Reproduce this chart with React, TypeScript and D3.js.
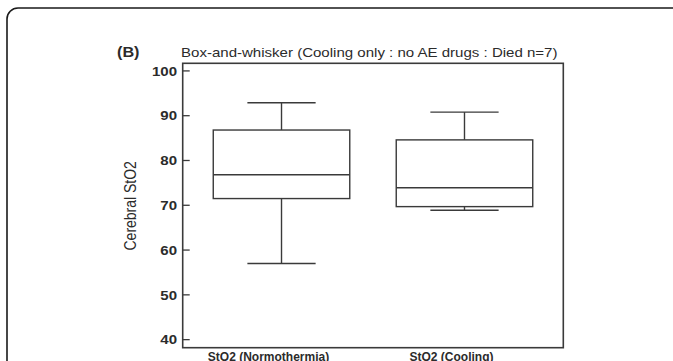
import React from "react";
import * as d3 from "d3";

const categories = ["StO2 (Normothermia)", "StO2 (Cooling)"];
const whiskerLow = [57, 68.9];
const q1 = [71.5, 69.7];
const median = [76.8, 73.9];
const q3 = [86.8, 84.6];
const whiskerHigh = [92.9, 90.8];
const yTicks = [40, 50, 60, 70, 80, 90, 100];
const title = "Box-and-whisker (Cooling only : no AE drugs : Died n=7)";
const panelLabel = "(B)";
const yLabel = "Cerebral StO2";

const W = 673;
const H = 361;
const frame = { left: 182.7, right: 563.3, top: 63.3, bottom: 347.7 };
const SX = 1.158; // horizontal stretch of text in the reference
const ink = "#2b2b2b";
const font = "'Liberation Sans', Arial, Helvetica, sans-serif";

export default function App() {
  const y = d3.scaleLinear().domain([38.2, 101.7]).range([frame.bottom, frame.top]);
  const x = d3
    .scalePoint<string>()
    .domain(categories)
    .range([frame.left, frame.right])
    .padding(0.54);
  const step = x.step();
  const boxHalf = step * 0.373;
  const capHalf = boxHalf / 2;

  return (
    <svg
      width={W}
      height={H}
      style={{ position: "absolute", left: 0, top: 0, background: "#fff" }}
      fontFamily={font}
    >
      <rect x={0} y={0} width={W} height={H} fill="#fff" />
      <rect x={7} y={8} width={720} height={420} rx={11} ry={11} fill="none" stroke="#1a1a1a" strokeWidth={1.6} />

      {/* panel label and title */}
      <text
        transform={`translate(117,57) scale(${SX},1)`}
        fontSize={14}
        fontWeight="bold"
        fill={ink}
      >
        {panelLabel}
      </text>
      <text
        transform={`translate(181,57) scale(${SX},1)`}
        fontSize={13}
        fill={ink}
      >
        {title}
      </text>

      {/* frame */}
      <rect
        x={frame.left}
        y={frame.top}
        width={frame.right - frame.left}
        height={frame.bottom - frame.top}
        fill="none"
        stroke="#3a3a3a"
        strokeWidth={1.6}
      />

      {/* y ticks */}
      {yTicks.map((t) => (
        <g key={t}>
          <line x1={frame.left} x2={frame.left + 7} y1={y(t)} y2={y(t)} stroke="#3a3a3a" strokeWidth={1.3} />
          <text
            transform={`translate(177,${y(t)}) scale(${SX},1)`}
            textAnchor="end"
            dy="0.36em"
            fontSize={13}
            fontWeight="bold"
            fill={ink}
          >
            {t}
          </text>
        </g>
      ))}

      {/* y label */}
      <text
        transform={`translate(136,205.8) scale(${SX},1) rotate(-90)`}
        textAnchor="middle"
        fontSize={14}
        fill={ink}
      >
        {yLabel}
      </text>

      {/* boxes */}
      {categories.map((c, i) => {
        const cx = x(c) as number;
        return (
          <g key={c} stroke="#3a3a3a" strokeWidth={1.4} fill="none">
            <line x1={cx} x2={cx} y1={y(whiskerHigh[i])} y2={y(q3[i])} />
            <line x1={cx} x2={cx} y1={y(q1[i])} y2={y(whiskerLow[i])} />
            <line x1={cx - capHalf} x2={cx + capHalf} y1={y(whiskerHigh[i])} y2={y(whiskerHigh[i])} />
            <line x1={cx - capHalf} x2={cx + capHalf} y1={y(whiskerLow[i])} y2={y(whiskerLow[i])} />
            <rect x={cx - boxHalf} y={y(q3[i])} width={boxHalf * 2} height={y(q1[i]) - y(q3[i])} fill="#fff" />
            <line x1={cx - boxHalf} x2={cx + boxHalf} y1={y(median[i])} y2={y(median[i])} />
          </g>
        );
      })}

      {/* x labels */}
      {categories.map((c) => (
        <text
          key={c}
          x={(x(c) as number) - 13}
          y={360.5}
          textAnchor="middle"
          fontSize={12}
          fontWeight="bold"
          fill={ink}
        >
          {c}
        </text>
      ))}
    </svg>
  );
}
